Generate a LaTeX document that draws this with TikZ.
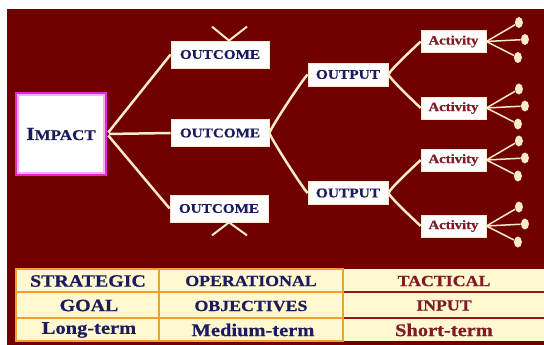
\documentclass[tikz,border=0pt]{standalone}
\usepackage{fontspec}
\setmainfont{Liberation Serif}[FakeStretch=1.15, BoldFeatures={FakeBold=0.6}]
\usetikzlibrary{calc,shapes.geometric}
\definecolor{bgred}{RGB}{112,0,0}
\definecolor{cream}{RGB}{250,235,200}
\definecolor{navy}{RGB}{27,27,94}
\definecolor{brick}{RGB}{128,26,36}
\definecolor{cellbg}{RGB}{255,248,208}
\definecolor{orng}{RGB}{240,160,48}
\definecolor{sepred}{RGB}{140,30,20}
\definecolor{magen}{RGB}{226,40,216}
\definecolor{pinkl}{RGB}{246,176,242}
\begin{document}
\begin{tikzpicture}[x=1pt,y=-1pt,
  box/.style={draw=cream, line width=0.8pt, fill=white, inner sep=0pt, text=navy},
  outc/.style={box, minimum width=98pt, minimum height=27pt, font=\fontsize{13.2}{14}\selectfont\bfseries},
  outp/.style={box, minimum width=80pt, minimum height=23pt, font=\fontsize{13.4}{14}\selectfont\bfseries},
  act/.style={box, minimum width=65pt, minimum height=22pt, text=brick, font=\fontsize{12.8}{13}\selectfont\bfseries},
  link/.style={draw=cream, line width=2.5pt},
  twig/.style={draw=cream, line width=1.5pt},
  dotn/.style={ellipse, fill=cream, inner sep=0pt, minimum width=8pt, minimum height=11pt},
  cellA/.style={text=navy, inner sep=0pt, font=\fontsize{17.3}{18}\selectfont\bfseries},
  cellB/.style={text=navy, inner sep=0pt, font=\fontsize{15.5}{16}\selectfont\bfseries},
  cellC/.style={text=brick, inner sep=0pt, font=\fontsize{15.5}{16}\selectfont\bfseries},
  cellL/.style={inner sep=0pt, font=\fontsize{17.8}{18}\selectfont\bfseries}
]
\useasboundingbox (0,0) rectangle (544,345);
\fill[white] (0,0) rectangle (544,345);
\fill[bgred] (7,9) rectangle (544,345);

% IMPACT box
\node[draw=magen, line width=4pt, fill=white, minimum width=88pt, minimum height=80pt, inner sep=0pt, text=navy, font=\bfseries] (imp) at (61,134)
  {{\fontsize{18.5}{18}\selectfont I}{\fontsize{14.8}{18}\selectfont MPACT}};
\draw[pinkl, line width=1.6pt] ($(imp.south west)+(3,-3)$) rectangle ($(imp.north east)+(-3,3)$);

% outcomes
\node[outc] (o1) at (220,54.5) {OUTCOME};
\node[outc] (o2) at (220,133) {OUTCOME};
\node[outc] (o3) at (219,208.5) {OUTCOME};

% outputs
\node[outp] (p1) at (348,74.5) {OUTPUT};
\node[outp] (p2) at (348,193) {OUTPUT};

% activities
\node[act] (a1) at (453.5,41.5) {Activity};
\node[act] (a2) at (453.5,108) {Activity};
\node[act] (a3) at (453.5,160) {Activity};
\node[act] (a4) at (453.5,226) {Activity};

% impact -> outcomes
\draw[link, shorten <=2pt] (imp.east) -- (o1.west);
\draw[link, shorten <=2pt] (imp.east) -- (o2.west);
\draw[link, shorten <=2pt] (imp.east) -- (o3.west);

% V stubs on outer outcomes
\coordinate (v1) at ($(o1.north)+(9,0)$);
\coordinate (v1a) at ($(v1)+(-17,-14)$);
\coordinate (v1b) at ($(v1)+(18,-14)$);
\draw[link, line width=2pt] (v1a) -- (v1) -- (v1b);
\coordinate (v3) at ($(o3.south)+(10,0)$);
\coordinate (v3a) at ($(v3)+(-17,13)$);
\coordinate (v3b) at ($(v3)+(18,13)$);
\draw[link, line width=2pt] (v3a) -- (v3) -- (v3b);

% outcome -> outputs
\draw[link] (o2.east) .. controls ($(o2.east)+(3,-8)$) and ($(p1.west)+(-5,5)$) .. (p1.west);
\draw[link] (o2.east) .. controls ($(o2.east)+(3,8)$) and ($(p2.west)+(-5,-5)$) .. (p2.west);

% outputs -> activities
\draw[link] (p1.east) .. controls ($(p1.east)+(3,-6)$) and ($(a1.west)+(-4,4)$) .. (a1.west);
\draw[link] (p1.east) .. controls ($(p1.east)+(3,6)$) and ($(a2.west)+(-4,-4)$) .. (a2.west);
\draw[link] (p2.east) .. controls ($(p2.east)+(3,-6)$) and ($(a3.west)+(-4,4)$) .. (a3.west);
\draw[link] (p2.east) .. controls ($(p2.east)+(3,6)$) and ($(a4.west)+(-4,-4)$) .. (a4.west);

% activity fans
\foreach \a in {1,2,3,4}{
  \node[dotn] (d\a a) at ($(a\a.east)+(32.5,-19)$) {};
  \node[dotn] (d\a b) at ($(a\a.east)+(38.5,-2)$) {};
  \node[dotn] (d\a c) at ($(a\a.east)+(31.5,16)$) {};
  \draw[twig] (a\a.east) -- (d\a a);
  \draw[twig] (a\a.east) -- (d\a b);
  \draw[twig] (a\a.east) -- (d\a c);
}

% table
\fill[cellbg] (16,269) rectangle (544,341);
\draw[sepred, line width=2.2pt] (343,292) -- (544,292);
\draw[sepred, line width=2.2pt] (343,318) -- (544,318);
\draw[orng, line width=2pt] (16,269) rectangle (343,341);
\draw[orng, line width=2pt] (159,269) -- (159,341);
\draw[orng, line width=2.4pt] (16,292) -- (343,292);
\draw[orng, line width=2.4pt] (16,318) -- (343,318);

\node[cellA] (t11) at (88,281) {STRATEGIC};
\node[cellB] (t12) at (251,281) {OPERATIONAL};
\node[cellC] (t13) at (444,281) {TACTICAL};
\node[cellA] (t21) at (89,305.5) {GOAL};
\node[cellB] (t22) at (251,306) {OBJECTIVES};
\node[cellC] (t23) at (444,305.5) {INPUT};
\node[cellL, text=navy] (t31) at (89,330) {Long-term};
\node[cellL, text=navy] (t32) at (253,330) {Medium-term};
\node[cellL, text=brick] (t33) at (444,330) {Short-term};
\end{tikzpicture}
\end{document}
